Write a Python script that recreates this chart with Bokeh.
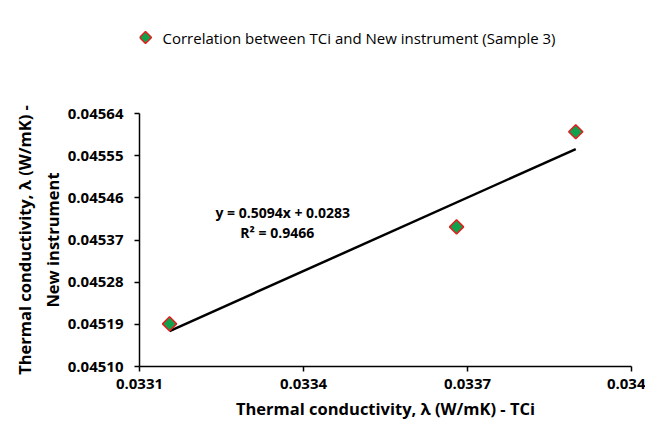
import numpy as np
from bokeh.plotting import figure
from bokeh.layouts import column
from bokeh.models import (ColumnDataSource, Range1d, FixedTicker, PrintfTickFormatter, Label)
from bokeh.embed import file_html
from bokeh.resources import INLINE

# Data
x_tci = [0.033155, 0.033680, 0.033898]
y_new = [0.045191, 0.045398, 0.045601]
series_name = "Correlation between TCi and New instrument (Sample 3)"
equation_text = "y = 0.5094x + 0.0283"
r2_text = "R² = 0.9466"
x_ticks = [0.0331, 0.0334, 0.0337, 0.034]
x_tick_labels = ["0.0331", "0.0334", "0.0337", "0.034"]
y_ticks = [0.04510, 0.04519, 0.04528, 0.04537, 0.04546, 0.04555, 0.04564]

FONT = "Open Sans"
FILL = "#12a04c"
EDGE = "#e02020"

# ---- legend strip (top); its frame is aligned with the chart frame, 1 unit = 1 px ----
leg_fig = figure(width=645, height=60, output_backend="svg", toolbar_location=None,
                 x_range=Range1d(139, 631), y_range=Range1d(60, 0),
                 x_axis_location=None, y_axis_location=None,
                 min_border_left=0, min_border_right=0, min_border_top=0, min_border_bottom=0)
leg_fig.outline_line_color = None
leg_fig.xgrid.visible = False
leg_fig.ygrid.visible = False
leg_fig.scatter(x=[145], y=[37], marker="square", size=8.5, angle=np.pi / 4,
                fill_color=FILL, line_color=EDGE, line_width=1.5)
leg_fig.add_layout(Label(x=162, y=37, text=series_name, text_font=FONT,
                         text_font_size="15px", text_baseline="middle",
                         text_align="left", text_color="black"))

# ---- main chart ----
p = figure(width=645, height=364, output_backend="svg", toolbar_location=None,
           x_range=Range1d(0.0331, 0.034), y_range=Range1d(0.04510, 0.04564),
           min_border_left=139, min_border_right=14, min_border_top=53,
           min_border_bottom=58)
p.outline_line_color = None
p.xgrid.visible = False
p.ygrid.visible = False

# Trend line from least squares on the data
slope, intercept = np.polyfit(x_tci, y_new, 1)
xs_fit = [min(x_tci), max(x_tci)]
ys_fit = [slope * v + intercept for v in xs_fit]
p.line(xs_fit, ys_fit, line_color="black", line_width=2.5)

src = ColumnDataSource(dict(x=x_tci, y=y_new))
p.scatter("x", "y", source=src, marker="square", size=10, angle=np.pi / 4,
          fill_color=FILL, line_color=EDGE, line_width=1.5)

for ax in (p.xaxis[0], p.yaxis[0]):
    ax.axis_line_color = "black"
    ax.axis_line_width = 1.5
    ax.major_tick_line_color = "black"
    ax.major_tick_line_width = 1.5
    ax.major_tick_out = 5
    ax.major_tick_in = 0
    ax.minor_tick_line_color = None
    ax.major_label_text_font = FONT
    ax.major_label_text_font_style = "bold"
    ax.major_label_text_font_size = "15px"
    ax.major_label_text_color = "black"
    ax.axis_label_text_font = FONT
    ax.axis_label_text_font_style = "bold"
    ax.axis_label_text_font_size = "16.5px"
    ax.axis_label_text_color = "black"

p.xaxis.ticker = FixedTicker(ticks=x_ticks)
p.xaxis.major_label_overrides = {t: l for t, l in zip(x_ticks, x_tick_labels)}
p.xaxis.major_label_standoff = 7
p.xaxis.axis_label = "Thermal conductivity, λ (W/mK) - TCi"
p.xaxis.axis_label_standoff = 5

p.yaxis.ticker = FixedTicker(ticks=y_ticks)
p.yaxis.formatter = PrintfTickFormatter(format="%.5f")
p.yaxis.major_label_standoff = 11
p.yaxis.axis_label = "Thermal conductivity, λ (W/mK) -\nNew instrument"
p.yaxis.axis_label_standoff = 1

p.add_layout(Label(x=0.033362, y=0.045429, text=equation_text, text_font=FONT,
                   text_font_style="bold", text_font_size="14px", text_align="center",
                   text_baseline="middle", text_color="black"))
p.add_layout(Label(x=0.033352, y=0.045386, text=r2_text, text_font=FONT,
                   text_font_style="bold", text_font_size="14px", text_align="center",
                   text_baseline="middle", text_color="black"))

layout = column(leg_fig, p, spacing=0)
open("out.html", "w").write(file_html(layout, INLINE))
